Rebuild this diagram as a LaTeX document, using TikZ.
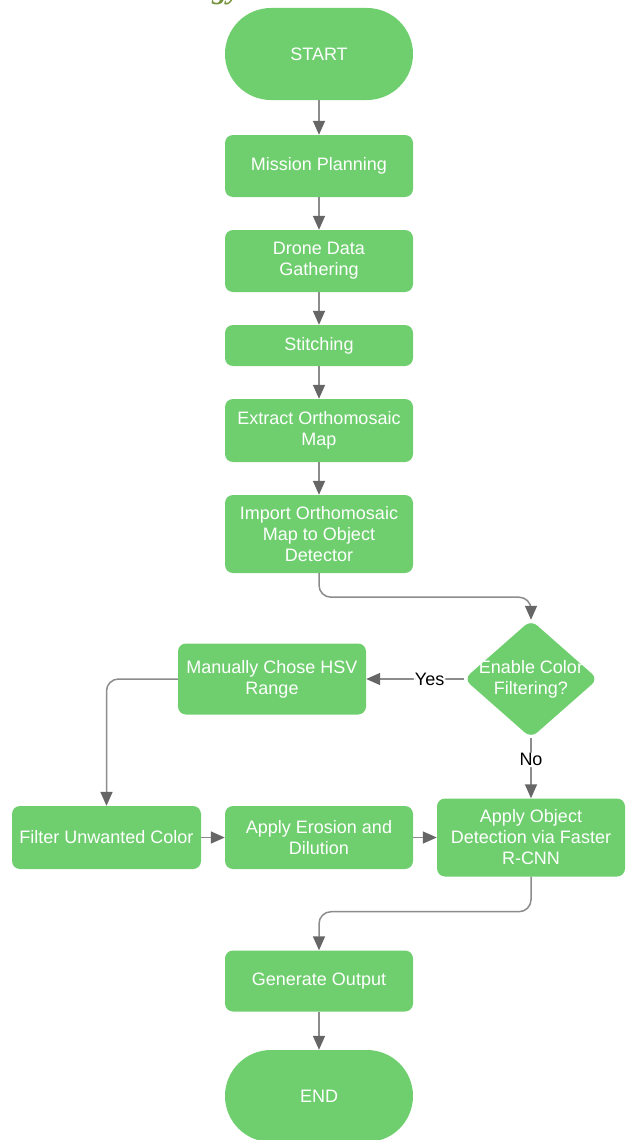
\documentclass[tikz,border=0pt]{standalone}
\usepackage{fontspec}
\setmainfont{Liberation Sans}
\newfontfamily\titlefont{Liberation Serif}
\usetikzlibrary{arrows.meta,shapes.geometric}
\definecolor{boxgreen}{HTML}{6FCF6F}
\definecolor{linec}{HTML}{8C8C8C}
\definecolor{tipc}{HTML}{666666}
\definecolor{titlec}{HTML}{76923C}
\begin{document}
\begin{tikzpicture}[x=1pt,y=-1pt,
  box/.style={fill=boxgreen, rounded corners=8pt, minimum width=188pt, text=white, align=center, font=\fontsize{18}{21}\selectfont, inner sep=0pt},
  term/.style={box, rounded corners=46pt, minimum height=92pt},
  flow/.style={draw=linec, line width=1.5pt, -{Triangle[length=14pt,width=12pt,color=tipc]}, rounded corners=12pt},
  lab/.style={fill=white, inner sep=1pt, text=black, font=\fontsize{18}{21}\selectfont}]
\useasboundingbox (0,0) rectangle (625,1140);
\node[anchor=base east, inner sep=0pt, text=titlec, font=\titlefont\bfseries\itshape\fontsize{30}{36}\selectfont] (title) at (241,-1) {Methodology};
\node[term] (start) at (319,54) {START};
\node[box, minimum height=62pt] (mp) at (319,166) {Mission Planning};
\node[box, minimum height=62pt] (dd) at (319,261) {Drone Data\\Gathering};
\node[box, minimum height=41pt] (st) at (319,345.5) {Stitching};
\node[box, minimum height=63pt] (eo) at (319,430.5) {Extract Orthomosaic\\Map};
\node[box, minimum height=78pt] (im) at (319,534) {Import Orthomosaic\\Map to Object\\Detector};
\node[diamond, fill=boxgreen, minimum width=134pt, minimum height=118pt, inner sep=0pt, rounded corners=8pt] (dec) at (531,679) {};
\node[text=white, align=center, inner sep=0pt, font=\fontsize{18}{21}\selectfont] (dectext) at (dec) {Enable Color\\Filtering?};
\node[box, minimum height=71pt] (hsv) at (272,679) {Manually Chose HSV\\Range};
\node[box, minimum height=63pt, minimum width=189pt] (fil) at (106.5,837.5) {Filter Unwanted Color};
\node[box, minimum height=63pt] (ero) at (319,837.5) {Apply Erosion and\\Dilution};
\node[box, minimum height=78pt] (obj) at (531,837.5) {Apply Object\\Detection via Faster\\R-CNN};
\node[box, minimum height=61pt] (gen) at (319,981) {Generate Output};
\node[term] (end) at (319,1096) {END};
\draw[flow] (start) -- (mp);
\draw[flow] (mp) -- (dd);
\draw[flow] (dd) -- (st);
\draw[flow] (st) -- (eo);
\draw[flow] (eo) -- (im);
\draw[flow] (im.south) -- ++(0,24) -| (dec.north);
\draw[flow] (dec.west) -- node[lab, pos=0.35] (yes) {Yes} (hsv.east);
\draw[flow] (hsv.west) -| (fil.north);
\draw[flow] (dec.south) -- node[lab, pos=0.36] (no) {No} (obj.north);
\draw[flow] (fil.east) -- (ero.west);
\draw[flow] (ero.east) -- (obj.west);
\draw[flow] (obj.south) -- ++(0,35) -| (gen.north);
\draw[flow] (gen) -- (end);
\end{tikzpicture}
\end{document}
